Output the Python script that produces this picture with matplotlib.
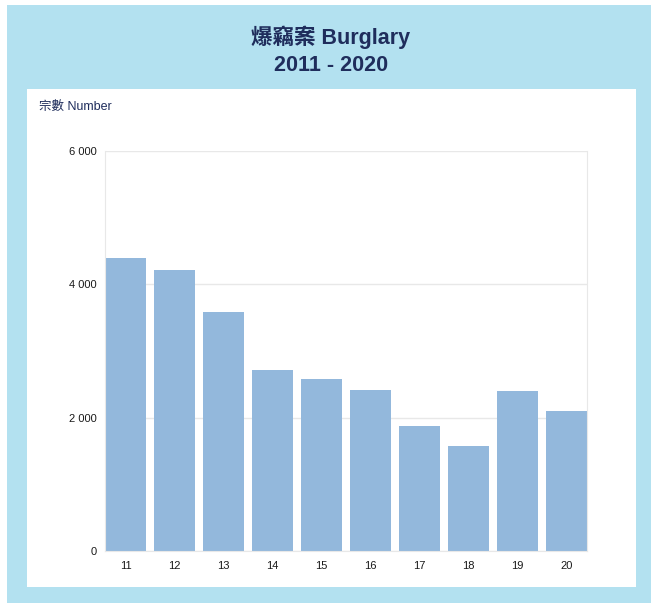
import matplotlib
matplotlib.use("Agg")
import matplotlib.pyplot as plt
from matplotlib.patches import Rectangle

years = ["11", "12", "13", "14", "15", "16", "17", "18", "19", "20"]
cases = [4390, 4216, 3578, 2708, 2573, 2420, 1875, 1575, 2393, 2094]
yticks = [0, 2000, 4000, 6000]
ytick_labels = ["0", "2 000", "4 000", "6 000"]

BG = "#b3e1f0"
NAVY = "#1f2d5c"
BAR = "#93b8dc"
GRID = "#e8e8e8"
FONTS = ["Liberation Sans", "Noto Sans CJK TC"]

W, H = 651, 603
fig = plt.figure(figsize=(W / 100, H / 100), dpi=100)
fig.patch.set_facecolor("white")

# light blue frame and white inner panel (pixel coords -> figure fraction)
def box(x0, y0, x1, y1, color):
    fig.add_artist(Rectangle((x0 / W, 1 - y1 / H), (x1 - x0) / W, (y1 - y0) / H,
                             transform=fig.transFigure, facecolor=color,
                             edgecolor="none", zorder=-10))

box(7, 5, W, H, BG)
box(27, 89, 636, 587, "white")

fig.text(331 / W, 1 - 37 / H, "爆竊案 Burglary", ha="center", va="center",
         fontsize=15.5, fontweight="bold", color=NAVY, family=FONTS)
fig.text(331 / W, 1 - 65.5 / H, "2011 - 2020", ha="center", va="center",
         fontsize=15.5, fontweight="bold", color=NAVY, family=FONTS)
fig.text(39 / W, 1 - 106.5 / H, "宗數 Number", ha="left", va="center",
         fontsize=9, color=NAVY, family=FONTS)

ax = fig.add_axes([105 / W, 1 - 551 / H, (587 - 105) / W, (551 - 151) / H])
ax.set_facecolor("none")
x = range(len(years))
ax.bar(x, cases, width=0.84, color=BAR, zorder=2)
ax.set_xlim(-0.42, len(years) - 1 + 0.42)
ax.set_ylim(0, 6000)
ax.set_xticks(list(x))
ax.set_xticklabels(years)
ax.set_yticks(yticks)
ax.set_yticklabels(ytick_labels)
ax.grid(axis="y", color=GRID, linewidth=1, zorder=0)
for s in ["left", "right"]:
    ax.spines[s].set_color(GRID)
ax.spines["top"].set_visible(False)
ax.spines["bottom"].set_color(GRID)
ax.tick_params(length=0, labelsize=8, colors="#1a1a1a")
ax.tick_params(axis="x", pad=7.5)
ax.tick_params(axis="y", pad=6)
for lab in ax.get_xticklabels() + ax.get_yticklabels():
    lab.set_family(FONTS)

fig.savefig("out.png", dpi=100)
